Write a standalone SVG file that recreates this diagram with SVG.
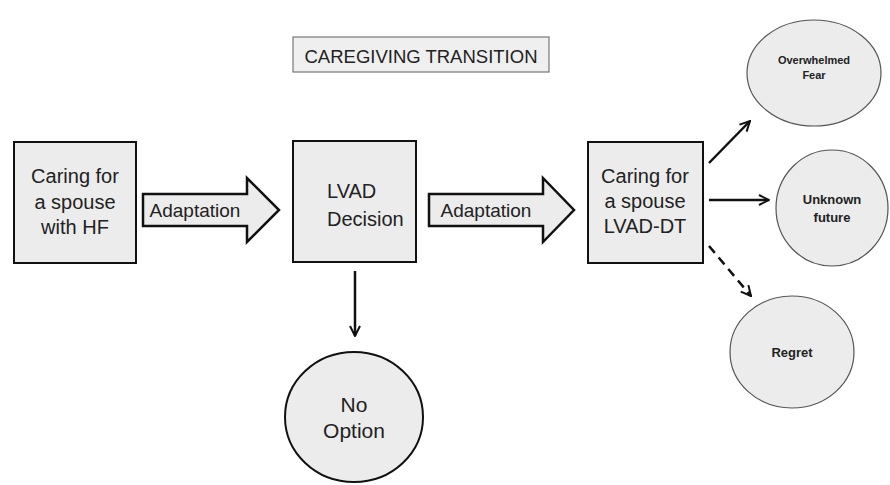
<svg xmlns="http://www.w3.org/2000/svg" width="890" height="485" viewBox="0 0 890 485">
<style>
  text { font-family: "Liberation Sans", Arial, sans-serif; fill: #222; }
  .box { fill: #ececec; stroke: #111; stroke-width: 2; }
  .big { font-size: 20px; text-anchor: middle; }
  .fat { fill: #ececec; stroke: #111; stroke-width: 2.5; stroke-linejoin: miter; }
  .thin { fill: #ececec; stroke: #555; stroke-width: 1.2; }
  .small { font-size: 13px; font-weight: bold; text-anchor: middle; }
  .tiny { font-size: 11px; font-weight: bold; text-anchor: middle; }
  .con { stroke: #111; stroke-width: 2.5; fill: none; }
</style>
<defs>
  <marker id="ah" viewBox="0 0 10 10" refX="9" refY="5" markerWidth="5" markerHeight="5" orient="auto" markerUnits="strokeWidth">
    <path d="M1,1 L9,5 L1,9" fill="none" stroke="#111" stroke-width="1.6"/>
  </marker>
</defs>
<rect width="890" height="485" fill="#fff"/>

<g id="title">
  <rect x="293" y="37" width="256" height="35" fill="#efefef" stroke="#777" stroke-width="1.2"/>
  <text x="421" y="63" font-size="18.5" text-anchor="middle">CAREGIVING TRANSITION</text>
</g>

<g id="hf">
  <rect class="box" x="14" y="142" width="122" height="121"/>
  <text class="big" x="75" y="183">Caring for</text>
  <text class="big" x="75" y="209">a spouse</text>
  <text class="big" x="75" y="234">with HF</text>
</g>

<g id="adapt1">
  <polygon class="fat" points="143,194 247,194 247,178 279,210 247,242 247,226 143,226"/>
  <text x="195" y="217" font-size="19" text-anchor="middle">Adaptation</text>
</g>

<g id="lvad">
  <rect class="box" x="293" y="141" width="123" height="121"/>
  <text x="327" y="198" font-size="20">LVAD</text>
  <text x="327" y="226" font-size="20">Decision</text>
</g>

<g id="adapt2">
  <polygon class="fat" points="429,194 543,194 543,178 574,210 543,242 543,226 429,226"/>
  <text x="486" y="217" font-size="19" text-anchor="middle">Adaptation</text>
</g>

<g id="dt">
  <rect class="box" x="588" y="142" width="115" height="121"/>
  <text class="big" x="645" y="183">Caring for</text>
  <text class="big" x="645" y="208">a spouse</text>
  <text class="big" x="645" y="233">LVAD-DT</text>
</g>

<g id="nooption">
  <ellipse cx="354" cy="417" rx="69" ry="65" fill="#ececec" stroke="#111" stroke-width="2"/>
  <text x="354" y="412" font-size="21" text-anchor="middle">No</text>
  <text x="354" y="438" font-size="21" text-anchor="middle">Option</text>
</g>

<g id="fear">
  <ellipse class="thin" cx="814" cy="73" rx="67" ry="53"/>
  <text class="tiny" x="814" y="64">Overwhelmed</text>
  <text class="tiny" x="814" y="79">Fear</text>
</g>

<g id="unknown">
  <ellipse class="thin" cx="832" cy="208" rx="56" ry="58"/>
  <text class="small" x="832" y="204">Unknown</text>
  <text class="small" x="832" y="222">future</text>
</g>

<g id="regret">
  <ellipse class="thin" cx="792" cy="352" rx="62" ry="56"/>
  <text class="small" x="792" y="357">Regret</text>
</g>

<g id="connectors">
  <line class="con" x1="355" y1="271" x2="355" y2="336" marker-end="url(#ah)"/>
  <line class="con" x1="709" y1="163" x2="750" y2="121" marker-end="url(#ah)"/>
  <line class="con" x1="709" y1="200" x2="769" y2="200" marker-end="url(#ah)"/>
  <line class="con" x1="709" y1="246" x2="751" y2="296" stroke-dasharray="9,6" marker-end="url(#ah)"/>
</g>
</svg>
